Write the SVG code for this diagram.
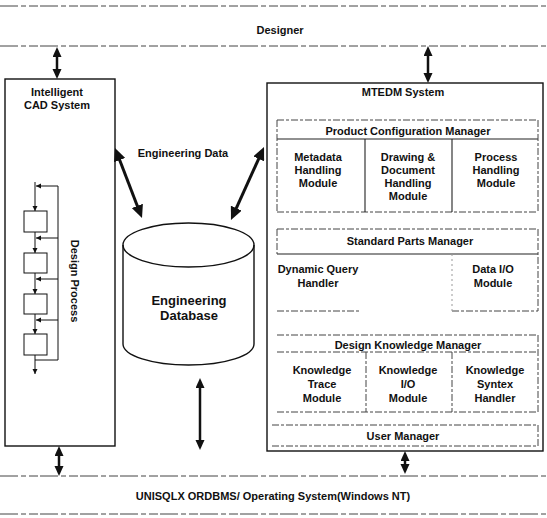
<svg xmlns="http://www.w3.org/2000/svg" width="547" height="518" viewBox="0 0 547 518">
<style>
text{font-family:"Liberation Sans",Arial,sans-serif;font-weight:bold;font-size:11px;fill:#111;text-anchor:middle;dominant-baseline:central}
.big{font-size:13px}
.box{fill:none;stroke:#111;stroke-width:1.4}
.rule{fill:none;stroke:#444;stroke-width:1;stroke-dasharray:18 3 5 3 9 2}
.dash{fill:none;stroke:#444;stroke-width:1;stroke-dasharray:7 2 3 2}
.faint{fill:none;stroke:#999;stroke-width:1;stroke-dasharray:2 3}
.solid{fill:none;stroke:#222;stroke-width:1.1}
.thick{stroke:#111;stroke-width:3;fill:none}
.mid{stroke:#111;stroke-width:2.5;fill:none}
.thin{stroke:#111;stroke-width:1;fill:none}
</style>
<defs>
<marker id="big" markerUnits="userSpaceOnUse" markerWidth="14" markerHeight="12" refX="3" refY="6" orient="auto-start-reverse"><path d="M0,0 L13,6 L0,12 z" fill="#111"/></marker>
<marker id="med" markerUnits="userSpaceOnUse" markerWidth="11" markerHeight="10" refX="2" refY="4.5" orient="auto-start-reverse"><path d="M0,0 L10,4.5 L0,9 z" fill="#111"/></marker>
<marker id="sm" markerUnits="userSpaceOnUse" markerWidth="6" markerHeight="6" refX="5" refY="2.5" orient="auto-start-reverse"><path d="M0,0 L5,2.5 L0,5 z" fill="#111"/></marker>
</defs>

<g id="designer">
<line class="rule" x1="0" y1="6" x2="547" y2="6"/>
<line class="rule" x1="0" y1="46" x2="547" y2="46"/>
<text x="280" y="30">Designer</text>
</g>

<g id="os">
<line class="rule" x1="0" y1="476" x2="547" y2="476"/>
<line class="rule" x1="0" y1="514" x2="547" y2="514"/>
<text x="273" y="496">UNISQLX ORDBMS/ Operating System(Windows NT)</text>
</g>

<g id="cad">
<rect class="box" x="5" y="79" width="110" height="367"/>
<text x="57" y="92">Intelligent</text>
<text x="57" y="105">CAD System</text>
<g id="design-process">
<rect class="thin" x="24" y="211" width="23" height="21"/>
<rect class="thin" x="24" y="253" width="23" height="20"/>
<rect class="thin" x="24" y="294" width="23" height="20"/>
<rect class="thin" x="24" y="334" width="23" height="21"/>
<line class="thin" x1="35" y1="182" x2="35" y2="211" marker-end="url(#sm)"/>
<line class="thin" x1="35" y1="232" x2="35" y2="253" marker-end="url(#sm)"/>
<line class="thin" x1="35" y1="273" x2="35" y2="294" marker-end="url(#sm)"/>
<line class="thin" x1="35" y1="314" x2="35" y2="334" marker-end="url(#sm)"/>
<line class="thin" x1="35" y1="355" x2="35" y2="374" marker-end="url(#sm)"/>
<polyline class="thin" points="35,360 58,360 58,186"/>
<line class="thin" x1="58" y1="186" x2="36" y2="186" marker-end="url(#sm)"/>
<line class="thin" x1="58" y1="238" x2="36" y2="238" marker-end="url(#sm)"/>
<line class="thin" x1="58" y1="279" x2="36" y2="279" marker-end="url(#sm)"/>
<line class="thin" x1="58" y1="320" x2="36" y2="320" marker-end="url(#sm)"/>
<text transform="translate(75,281) rotate(90)">Design Process</text>
</g>
</g>

<g id="database">
<path class="box" d="M123,245 L123,344 A65.5,21 0 0 0 254,344 L254,245"/>
<ellipse class="box" cx="188.5" cy="245" rx="65.5" ry="22"/>
<text class="big" x="189" y="300">Engineering</text>
<text class="big" x="189" y="315">Database</text>
</g>

<g id="mtedm">
<rect class="box" x="267" y="83" width="276" height="368"/>
<text x="403" y="92">MTEDM System</text>
</g>

<g id="pcm">
<line class="dash" x1="277" y1="120" x2="538" y2="120"/>
<line class="solid" x1="277" y1="139" x2="538" y2="139"/>
<line class="dash" x1="277" y1="120" x2="277" y2="212"/>
<line class="dash" x1="538" y1="120" x2="538" y2="212"/>
<line class="dash" x1="277" y1="212" x2="538" y2="212"/>
<line class="solid" x1="365" y1="139" x2="365" y2="212"/>
<line class="solid" x1="452" y1="139" x2="452" y2="212"/>
<text x="408" y="131">Product Configuration Manager</text>
<g id="metadata"><text x="318" y="157">Metadata</text><text x="318" y="170">Handling</text><text x="318" y="183">Module</text></g>
<g id="drawing"><text x="408" y="157">Drawing &amp;</text><text x="408" y="170">Document</text><text x="408" y="183">Handling</text><text x="408" y="196">Module</text></g>
<g id="process"><text x="496" y="157">Process</text><text x="496" y="170">Handling</text><text x="496" y="183">Module</text></g>
</g>

<g id="spm">
<line class="dash" x1="277" y1="229" x2="538" y2="229"/>
<line class="solid" x1="277" y1="254" x2="538" y2="254"/>
<line class="dash" x1="277" y1="229" x2="277" y2="254"/>
<line class="dash" x1="538" y1="229" x2="538" y2="311"/>
<line class="dash" x1="277" y1="311" x2="360" y2="311"/>
<line class="dash" x1="452" y1="311" x2="538" y2="311"/>
<line class="faint" x1="452" y1="254" x2="452" y2="311"/>
<text x="410" y="241">Standard Parts Manager</text>
<g id="dynamic-query"><text x="318" y="269">Dynamic Query</text><text x="318" y="283">Handler</text></g>
<g id="data-io"><text x="493" y="269">Data I/O</text><text x="493" y="283">Module</text></g>
</g>

<g id="dkm">
<line class="dash" x1="277" y1="335" x2="538" y2="335"/>
<line class="dash" x1="277" y1="352" x2="538" y2="352"/>
<line class="dash" x1="538" y1="335" x2="538" y2="412"/>
<line class="dash" x1="277" y1="412" x2="538" y2="412"/>
<line class="dash" x1="366" y1="352" x2="366" y2="412"/>
<line class="dash" x1="452" y1="352" x2="452" y2="412"/>
<text x="408" y="345">Design Knowledge Manager</text>
<g id="trace"><text x="322" y="370">Knowledge</text><text x="322" y="384">Trace</text><text x="322" y="398">Module</text></g>
<g id="kio"><text x="408" y="370">Knowledge</text><text x="408" y="384">I/O</text><text x="408" y="398">Module</text></g>
<g id="syntex"><text x="495" y="370">Knowledge</text><text x="495" y="384">Syntex</text><text x="495" y="398">Handler</text></g>
</g>

<g id="user-manager">
<line class="dash" x1="272" y1="425" x2="538" y2="425"/>
<line class="dash" x1="272" y1="446" x2="538" y2="446"/>
<line class="dash" x1="538" y1="425" x2="538" y2="446"/>
<text x="403" y="436">User Manager</text>
</g>

<g id="connectors">
<line class="thick" x1="118.6" y1="157.3" x2="138.4" y2="208.7" marker-start="url(#big)" marker-end="url(#big)"/>
<line class="thick" x1="259.9" y1="156.1" x2="235.1" y2="210.9" marker-start="url(#big)" marker-end="url(#big)"/>
<text x="183" y="153">Engineering Data</text>
<line class="mid" x1="57" y1="55" x2="57" y2="71" marker-start="url(#med)" marker-end="url(#med)"/>
<line class="mid" x1="428" y1="54" x2="428" y2="75" marker-start="url(#med)" marker-end="url(#med)"/>
<line class="mid" x1="59" y1="454" x2="59" y2="468" marker-start="url(#med)" marker-end="url(#med)"/>
<line class="mid" x1="405" y1="459" x2="405" y2="466" marker-start="url(#med)" marker-end="url(#med)"/>
<line class="mid" x1="200" y1="386" x2="200" y2="442" marker-start="url(#med)" marker-end="url(#med)"/>
</g>
</svg>
